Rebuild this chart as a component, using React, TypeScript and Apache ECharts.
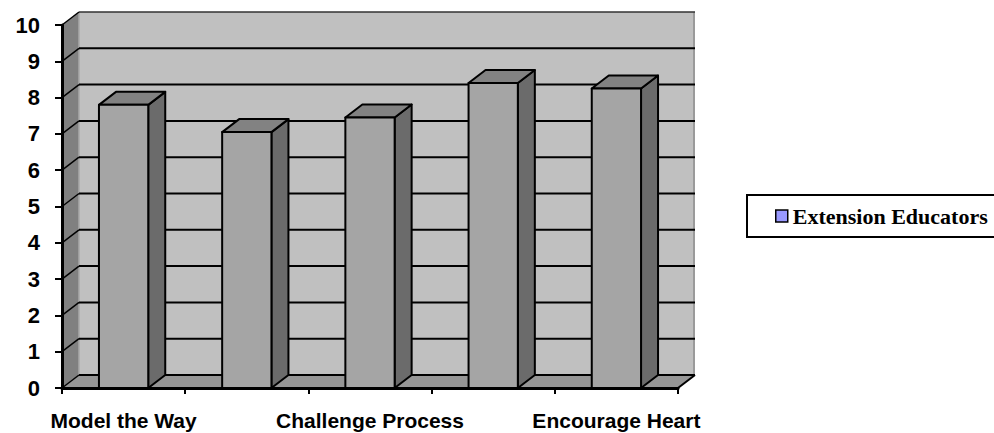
import React, { useEffect, useRef } from "react";
import * as echarts from "echarts";

const categories = [
  "Model the Way",
  "Inspire Vision",
  "Challenge Process",
  "Enable Others",
  "Encourage Heart",
];
const scores = [7.8, 7.05, 7.45, 8.4, 8.25];
const yTickValues = [0, 1, 2, 3, 4, 5, 6, 7, 8, 9, 10];
const seriesName = "Extension Educators";

const DX = 17;
const DY = -13;
const SANS = "'Liberation Sans', Arial, sans-serif";

export default function App() {
  const ref = useRef<HTMLDivElement>(null);
  useEffect(() => {
    if (!ref.current) return;
    const chart = echarts.init(ref.current, null, { renderer: "svg" });
    const option: any = {
      animation: false,
      backgroundColor: "#ffffff",
      grid: { left: 62, top: 25, width: 616, height: 363, containLabel: false },
      legend: {
        data: [seriesName],
        left: 747,
        top: 195,
        orient: "vertical",
        padding: [10, 26, 10, 28],
        borderColor: "#000",
        borderWidth: 2,
        itemWidth: 12,
        itemHeight: 12,
        itemGap: 0,
        icon: "rect",
        selectedMode: false,
        itemStyle: { borderColor: "#000", borderWidth: 1.5 },
        textStyle: {
          fontFamily: "'Liberation Serif', 'Times New Roman', serif",
          fontWeight: "bold",
          fontSize: 22,
          color: "#000",
        },
      },
      xAxis: {
        type: "category",
        data: categories,
        z: 10,
        axisLine: { show: true, lineStyle: { color: "#000", width: 3 } },
        axisTick: { show: true, interval: 0, length: 6, alignWithLabel: false, lineStyle: { color: "#000", width: 2 } },
        axisLabel: {
          interval: 1,
          margin: 22,
          fontFamily: SANS,
          fontWeight: "bold",
          fontSize: 21,
          color: "#000",
        },
        splitLine: { show: false },
      },
      yAxis: {
        type: "value",
        min: 0,
        max: 10,
        interval: 1,
        z: 10,
        axisLine: { show: true, lineStyle: { color: "#000", width: 3 } },
        axisTick: { show: true, length: 7, lineStyle: { color: "#000", width: 2 } },
        axisLabel: {
          margin: 22,
          fontFamily: SANS,
          fontWeight: "bold",
          fontSize: 22,
          color: "#000",
        },
        splitLine: { show: false },
      },
      series: [
        {
          type: "custom",
          name: "planes",
          z: 1,
          silent: true,
          data: [[0, 0]],
          renderItem: (params: any, api: any) => {
            const cs = params.coordSys;
            const x0 = cs.x;
            const x1 = cs.x + cs.width;
            const yT = cs.y;
            const yB = cs.y + cs.height;
            return {
              type: "group",
              children: [
                {
                  type: "rect",
                  shape: { x: x0 + DX, y: yT + DY, width: cs.width, height: cs.height },
                  style: { fill: "#c0c0c0" },
                },
                {
                  type: "line",
                  shape: { x1: x1 + DX - 1, y1: yT + DY, x2: x1 + DX - 1, y2: yB + DY },
                  style: { stroke: "#9a9a9a", lineWidth: 2 },
                },
                {
                  type: "polygon",
                  shape: { points: [[x0, yB], [x0, yT], [x0 + DX, yT + DY], [x0 + DX, yB + DY]] },
                  style: { fill: "#808080" },
                },
                {
                  type: "line",
                  shape: { x1: x0 + DX, y1: yT + DY, x2: x0 + DX, y2: yB + DY },
                  style: { stroke: "#a8a8a8", lineWidth: 1.5 },
                },
                {
                  type: "polygon",
                  shape: { points: [[x0, yB], [x1, yB], [x1 + DX, yB + DY], [x0 + DX, yB + DY]] },
                  style: { fill: "#969696" },
                },
                {
                  type: "line",
                  shape: { x1: x1, y1: yB, x2: x1 + DX, y2: yB + DY },
                  style: { stroke: "#000", lineWidth: 2 },
                },
              ],
            };
          },
        },
        {
          type: "custom",
          name: "gridlines",
          z: 2,
          silent: true,
          data: yTickValues.map((v) => [0, v]),
          renderItem: (params: any, api: any) => {
            const cs = params.coordSys;
            const x0 = cs.x;
            const x1 = cs.x + cs.width;
            const y = api.coord([0, api.value(1)])[1];
            return {
              type: "group",
              children: [
                {
                  type: "line",
                  shape: { x1: x0 + DX, y1: y + DY, x2: x1 + DX, y2: y + DY },
                  style: { stroke: api.value(1) === 10 ? "#333" : "#000", lineWidth: api.value(1) === 10 ? 1.5 : 2 },
                },
                {
                  type: "line",
                  shape: { x1: x0, y1: y, x2: x0 + DX, y2: y + DY },
                  style: { stroke: "#000", lineWidth: 1.5 },
                },
              ],
            };
          },
        },
        {
          type: "custom",
          name: seriesName,
          z: 3,
          itemStyle: { color: "#9999ff" },
          data: scores.map((v, i) => [i, v]),
          renderItem: (params: any, api: any) => {
            const idx = api.value(0);
            const val = api.value(1);
            const top = api.coord([idx, val]);
            const base = api.coord([idx, 0]);
            const band = api.size([1, 0])[0];
            const w = band * 0.4;
            const xl = top[0] - w / 2;
            const xr = top[0] + w / 2;
            const ty = top[1];
            const by = base[1];
            const stroke = { stroke: "#000", lineWidth: 2, lineJoin: "round" };
            return {
              type: "group",
              children: [
                {
                  type: "polygon",
                  shape: { points: [[xr, ty], [xr + DX, ty + DY], [xr + DX, by + DY], [xr, by]] },
                  style: { fill: "#6b6b6b", ...stroke },
                },
                {
                  type: "polygon",
                  shape: { points: [[xl, ty], [xl + DX, ty + DY], [xr + DX, ty + DY], [xr, ty]] },
                  style: { fill: "#828282", ...stroke },
                },
                {
                  type: "rect",
                  shape: { x: xl, y: ty, width: w, height: by - ty },
                  style: { fill: "#a5a5a5", ...stroke },
                },
              ],
            };
          },
        },
      ],
    };
    chart.setOption(option);
    return () => chart.dispose();
  }, []);
  return (
    <div
      ref={ref}
      style={{ position: "fixed", left: 0, top: 0, width: 994, height: 433 }}
    />
  );
}
